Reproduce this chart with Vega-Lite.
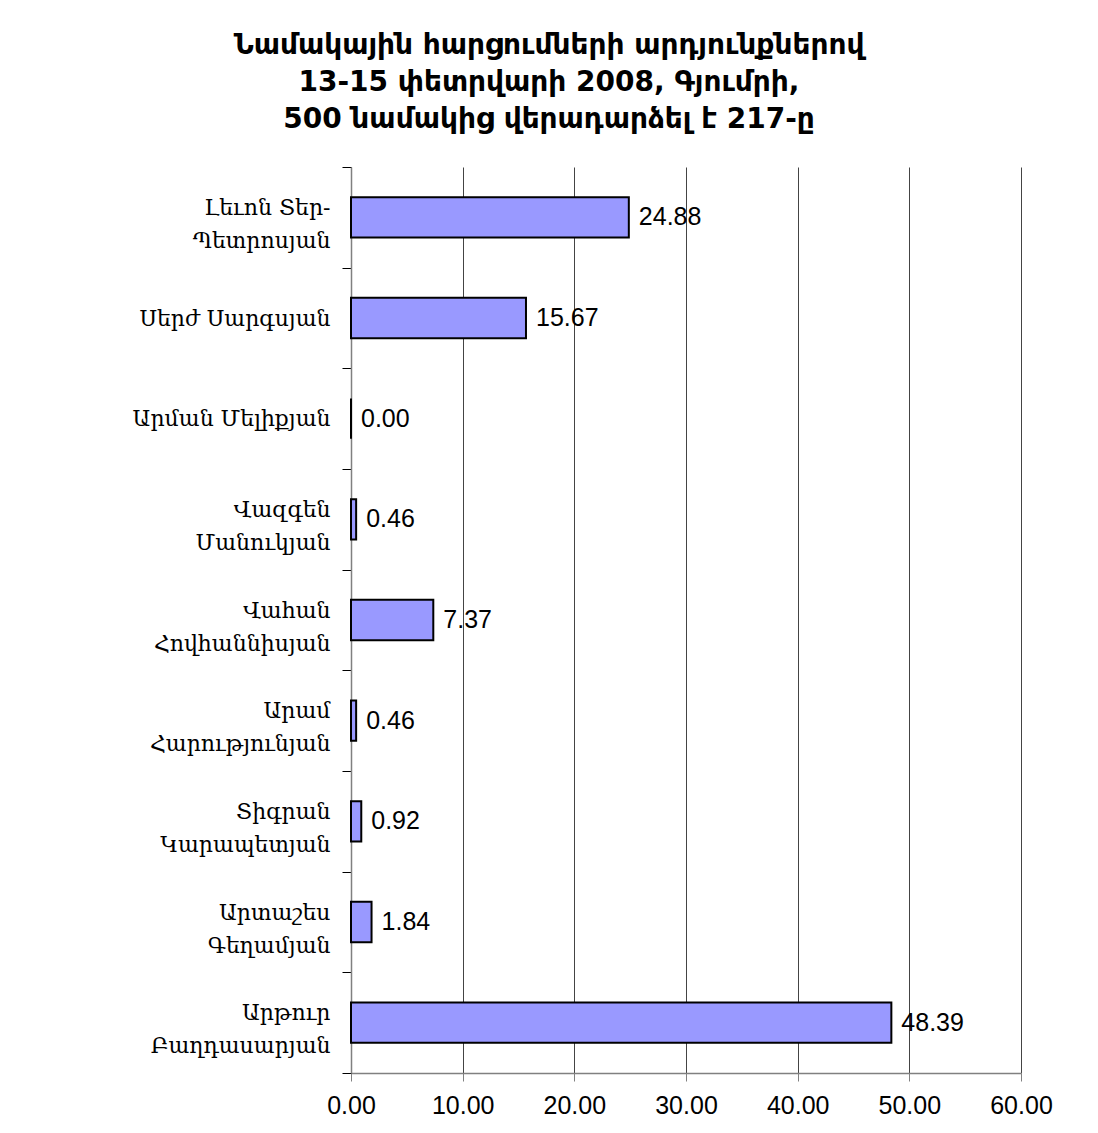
{
  "$schema": "https://vega.github.io/schema/vega-lite/v6.json",
  "width": 670,
  "height": 906,
  "autosize": {"type": "none"},
  "padding": {"left": 351, "top": 167, "right": 77, "bottom": 60},
  "background": "white",
  "title": {
    "text": ["Նամակային հարցումների արդյունքներով", "13-15 փետրվարի 2008, Գյումրի,", "500 նամակից վերադարձել է 217-ը"],
    "font": "DejaVu Sans",
    "fontWeight": "bold",
    "fontSize": 28,
    "lineHeight": 37,
    "anchor": "middle",
    "frame": "group",
    "dx": -137,
    "offset": 22,
    "color": "black"
  },
  "data": {
    "values": [
      {"candidate": "Լեւոն Տեր-|Պետրոսյան", "pct": 24.88},
      {"candidate": "Սերժ Սարգսյան", "pct": 15.67},
      {"candidate": "Արման Մելիքյան", "pct": 0.0},
      {"candidate": "Վազգեն|Մանուկյան", "pct": 0.46},
      {"candidate": "Վահան|Հովհաննիսյան", "pct": 7.37},
      {"candidate": "Արամ|Հարությունյան", "pct": 0.46},
      {"candidate": "Տիգրան|Կարապետյան", "pct": 0.92},
      {"candidate": "Արտաշես|Գեղամյան", "pct": 1.84},
      {"candidate": "Արթուր|Բաղդասարյան", "pct": 48.39}
    ]
  },
  "encoding": {
    "y": {
      "field": "candidate",
      "type": "nominal",
      "sort": null,
      "scale": {"paddingInner": 0, "paddingOuter": 0},
      "axis": {
        "title": null,
        "tickBand": "extent",
        "grid": false,
        "domainColor": "#808080",
        "domainWidth": 1.5,
        "tickColor": "black",
        "tickSize": 9,
        "labelFont": "DejaVu Serif",
        "labelFontSize": 22,
        "labelLineHeight": 33,
        "labelColor": "black",
        "labelPadding": 12,
        "labelLimit": 340,
        "labelOffset": {"expr": "datum.value && indexof(datum.value, '|') >= 0 ? -10 : 0"},
        "labelExpr": "datum.value ? split(datum.value, '|') : ''"
      }
    }
  },
  "layer": [
    {
      "mark": {"type": "bar", "fill": "#9999ff", "stroke": "black", "strokeWidth": 2, "height": {"band": 0.4}},
      "encoding": {
        "x": {
          "field": "pct",
          "type": "quantitative",
          "scale": {"domain": [0, 60], "nice": false},
          "axis": {
            "title": null,
            "values": [0, 10, 20, 30, 40, 50, 60],
            "format": ".2f",
            "grid": true,
            "gridColor": "#444444",
            "gridWidth": 1,
            "domainColor": "#808080",
            "domainWidth": 1.5,
            "tickColor": "#808080",
            "tickSize": 8,
            "labelFlush": false,
            "labelFont": "Liberation Sans",
            "labelFontSize": 25,
            "labelColor": "black",
            "labelPadding": 12
          }
        }
      }
    },
    {
      "mark": {"type": "text", "align": "left", "baseline": "middle", "dx": 10, "font": "Liberation Sans", "fontSize": 25, "color": "black"},
      "encoding": {
        "x": {"field": "pct", "type": "quantitative"},
        "text": {"field": "pct", "type": "quantitative", "format": ".2f"}
      }
    }
  ],
  "config": {"view": {"stroke": null}}
}
